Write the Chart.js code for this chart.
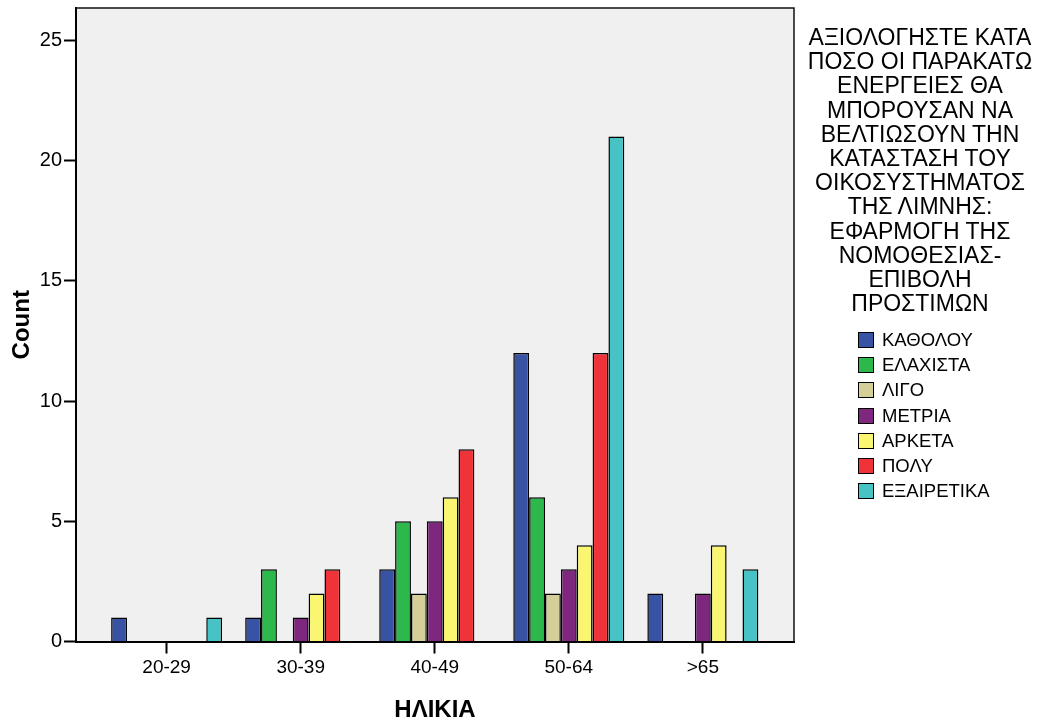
<!DOCTYPE html>
<html lang="el">
<head>
    <meta charset="UTF-8">
    <title>ΗΛΙΚΙΑ - Count</title>
    <script src="https://cdn.jsdelivr.net/npm/chart.js"></script>
    <style>
        body { margin: 0; background: #fff; font-family: "Liberation Sans", Arial, sans-serif; }
        .container { position: relative; width: 1042px; height: 727px; }
        #legend-title {
            position: absolute; left: 800px; top: 25px; width: 240px;
            text-align: center; font-size: 23px; line-height: 24.2px; color: #000;
        }
        .legend-item { position: absolute; left: 858px; height: 17px; font-size: 18.5px; color: #000; }
        .legend-item .box {
            position: absolute; left: 0; top: 0; width: 14px; height: 14px;
            border: 1.5px solid #000;
        }
        .legend-item .label { position: absolute; left: 24px; top: -2px; white-space: nowrap; line-height: 20px; }
    </style>
</head>
<body>
    <div class="container">
        <canvas id="barChart"></canvas>
        <div id="legend-title"></div>
        <div id="legend"></div>
    </div>

    <script type="text/javascript">
        // age groups on the x axis
        const categories = ["20-29", "30-39", "40-49", "50-64", ">65"];
        const yTicks = [0, 5, 10, 15, 20, 25];

        // counts per answer (null = no bar drawn)
        const katholou    = [1, 1, 3, 12, 2];
        const elachista   = [null, 3, 5, 6, null];
        const ligo        = [null, null, 2, 2, null];
        const metria      = [null, 1, 5, 3, 2];
        const arketa      = [null, 2, 6, 4, 4];
        const poly        = [null, 3, 8, 12, null];
        const exairetika  = [1, null, null, 21, 3];

        const seriesNames = ["ΚΑΘΟΛΟΥ", "ΕΛΑΧΙΣΤΑ", "ΛΙΓΟ", "ΜΕΤΡΙΑ", "ΑΡΚΕΤΑ", "ΠΟΛΥ", "ΕΞΑΙΡΕΤΙΚΑ"];
        const seriesValues = [katholou, elachista, ligo, metria, arketa, poly, exairetika];
        const seriesColors = ["#3953A4", "#2DB84B", "#D4CF98", "#7D287E", "#FBF671", "#EF3338", "#48C3C5"];

        const legendTitleLines = [
            "ΑΞΙΟΛΟΓΗΣΤΕ ΚΑΤΑ", "ΠΟΣΟ ΟΙ ΠΑΡΑΚΑΤΩ", "ΕΝΕΡΓΕΙΕΣ ΘΑ", "ΜΠΟΡΟΥΣΑΝ ΝΑ",
            "ΒΕΛΤΙΩΣΟΥΝ ΤΗΝ", "ΚΑΤΑΣΤΑΣΗ ΤΟΥ", "ΟΙΚΟΣΥΣΤΗΜΑΤΟΣ", "ΤΗΣ ΛΙΜΝΗΣ:",
            "ΕΦΑΡΜΟΓΗ ΤΗΣ", "ΝΟΜΟΘΕΣΙΑΣ-", "ΕΠΙΒΟΛΗ", "ΠΡΟΣΤΙΜΩΝ"
        ];

        // html legend on the right
        document.getElementById("legend-title").innerHTML = legendTitleLines.join("<br>");
        var legendHtml = "";
        seriesNames.forEach(function(name, i) {
            legendHtml += '<div class="legend-item" style="top:' + (332 + i * 25.2).toFixed(1) + 'px">' +
                '<div class="box" style="background:' + seriesColors[i] + '"></div>' +
                '<span class="label">' + name + '</span></div>';
        });
        document.getElementById("legend").innerHTML = legendHtml;

        // grey plot background + top/right frame
        const plotFrame = {
            id: "plotFrame",
            beforeDraw(chart) {
                const a = chart.chartArea, ctx = chart.ctx;
                ctx.save();
                ctx.fillStyle = "#F0F0F0";
                ctx.fillRect(a.left, a.top, a.right - a.left, a.bottom - a.top);
                ctx.restore();
            },
            afterDraw(chart) {
                const a = chart.chartArea, ctx = chart.ctx;
                ctx.save();
                ctx.strokeStyle = "#111";
                ctx.lineWidth = 1.5;
                ctx.beginPath();
                ctx.moveTo(a.left, a.top);
                ctx.lineTo(a.right, a.top);
                ctx.lineTo(a.right, a.bottom);
                ctx.stroke();
                ctx.restore();
            }
        };

        Chart.defaults.font.family = "'Liberation Sans', Arial, sans-serif";
        Chart.defaults.color = "#000";

        var ctx = document.getElementById("barChart").getContext("2d");
        var barChart = new Chart(ctx, {
            type: "bar",
            data: {
                datasets: seriesNames.map(function(name, i) {
                    return {
                        label: name,
                        data: seriesValues[i].map(function(v, j) { return { x: j, y: v }; }),
                        backgroundColor: seriesColors[i],
                        borderColor: "#000",
                        borderWidth: 1.5,
                        categoryPercentage: 0.828,
                        barPercentage: 1.0
                    };
                })
            },
            options: {
                responsive: true,
                maintainAspectRatio: false,
                animation: false,
                layout: {
                    padding: { left: 0, right: 248, top: 8, bottom: 0 }
                },
                plugins: {
                    legend: { display: false },
                    tooltip: { enabled: false }
                },
                scales: {
                    x: {
                        type: "linear",
                        offset: false,
                        min: -0.676,
                        max: 4.68,
                        afterBuildTicks: function(scale) {
                            scale.ticks = categories.map(function(c, i) { return { value: i }; });
                        },
                        afterFit: function(scale) {
                            scale.height = 85.5;
                            scale.paddingLeft = 0;
                            scale.paddingRight = 0;
                        },
                        ticks: {
                            font: { size: 19 },
                            padding: 3,
                            maxRotation: 0,
                            autoSkip: false,
                            callback: function(value) { return categories[value]; }
                        },
                        grid: {
                            offset: false,
                            drawOnChartArea: false,
                            tickLength: 12,
                            tickWidth: 2,
                            tickColor: "#000"
                        },
                        border: { color: "#000", width: 2 },
                        title: {
                            display: true,
                            text: "ΗΛΙΚΙΑ",
                            font: { size: 24, weight: "bold" },
                            padding: { top: 0, bottom: 2 }
                        }
                    },
                    y: {
                        min: 0,
                        max: 26.35,
                        afterBuildTicks: function(scale) {
                            scale.ticks = yTicks.map(function(v) { return { value: v }; });
                        },
                        afterFit: function(scale) {
                            scale.width = 76;
                            scale.paddingTop = 0;
                            scale.paddingBottom = 0;
                        },
                        ticks: {
                            font: { size: 20 },
                            padding: 2
                        },
                        grid: {
                            drawOnChartArea: false,
                            tickLength: 12,
                            tickWidth: 2,
                            tickColor: "#000"
                        },
                        border: { color: "#000", width: 2 },
                        title: {
                            display: true,
                            text: "Count",
                            font: { size: 24, weight: "bold" },
                            padding: { top: 8, bottom: 0 }
                        }
                    }
                }
            },
            plugins: [plotFrame]
        });
    </script>
</body>
</html>
